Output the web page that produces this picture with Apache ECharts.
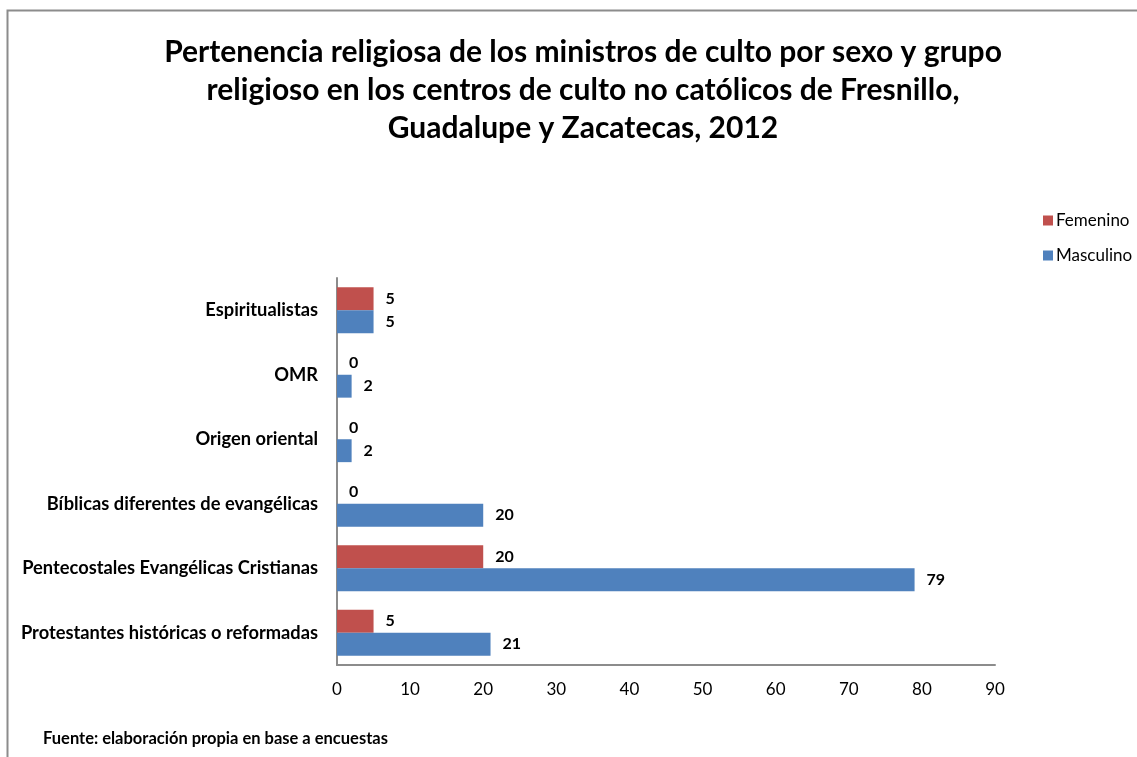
<!DOCTYPE html>
<html>
<head>
<meta charset="utf-8">
<script src="https://cdn.jsdelivr.net/npm/echarts@6/dist/echarts.min.js"></script>
<style>
  html, body { margin: 0; padding: 0; background: #fff; }
  #chart { width: 1137px; height: 757px; }
</style>
</head>
<body>
<div id="chart"></div>
<script>
// Religious groups, listed bottom to top as they appear on the vertical axis
const categories = [
  'Protestantes históricas o reformadas',
  'Pentecostales Evangélicas Cristianas',
  'Bíblicas diferentes de evangélicas',
  'Origen oriental',
  'OMR',
  'Espiritualistas'
];
const femenino = [5, 20, 0, 0, 0, 5];
const masculino = [21, 79, 20, 2, 2, 5];
const xTicks = { min: 0, max: 90, interval: 10 };

const FONT = 'Lato, "Open Sans", sans-serif';

const chart = echarts.init(document.getElementById('chart'), null, { renderer: 'canvas' });

const valueLabel = {
  show: true,
  position: 'right',
  distance: 12,
  color: '#000',
  fontFamily: FONT,
  fontWeight: 'bold',
  fontSize: 16,
  padding: [3, 0, 0, 0]
};

chart.setOption({
  backgroundColor: '#fff',
  animation: false,
  graphic: [{
    type: 'rect',
    shape: { x: 7.5, y: 10.5, width: 1200, height: 800 },
    style: { fill: 'none', stroke: '#8c8c8c', lineWidth: 2 },
    silent: true
  }],
  title: [{
    text: 'Pertenencia religiosa de los ministros de culto por sexo y grupo\nreligioso en los centros de culto no católicos de Fresnillo,\nGuadalupe y Zacatecas, 2012',
    left: 578,
    top: 28,
    textAlign: 'center',
    textStyle: {
      fontFamily: FONT,
      fontWeight: 'bold',
      fontSize: 30,
      lineHeight: 38,
      color: '#000'
    }
  }, {
    text: 'Fuente: elaboración propia en base a encuestas',
    left: 38,
    top: 725,
    textStyle: {
      fontFamily: FONT,
      fontWeight: 'bold',
      fontSize: 16.5,
      color: '#000'
    }
  }],
  legend: {
    data: ['Femenino', 'Masculino'],
    orient: 'vertical',
    left: 1038,
    top: 207,
    itemWidth: 10,
    itemHeight: 10,
    itemGap: 18,
    icon: 'rect',
    textStyle: { fontFamily: FONT, fontSize: 17, color: '#000', padding: [0, 0, 0, -2] }
  },
  grid: { left: 337, right: 142, top: 278, bottom: 92, containLabel: false },
  xAxis: {
    type: 'value',
    min: xTicks.min,
    max: xTicks.max,
    interval: xTicks.interval,
    axisLine: { show: true, lineStyle: { color: '#8c8c8c', width: 2 } },
    axisTick: { show: false },
    splitLine: { show: false },
    axisLabel: { fontFamily: FONT, fontSize: 17, color: '#000', margin: 16 }
  },
  yAxis: {
    type: 'category',
    data: categories,
    axisLine: { show: true, lineStyle: { color: '#8c8c8c', width: 2 } },
    axisTick: { show: false },
    splitLine: { show: false },
    axisLabel: {
      fontFamily: FONT, fontSize: 18.3, fontWeight: 'bold', color: '#000',
      margin: 19, padding: [5, 0, 0, 0]
    }
  },
  series: [{
    name: 'Femenino',
    type: 'bar',
    data: femenino,
    barGap: '0%',
    barCategoryGap: '29%',
    itemStyle: { color: '#C0504D' },
    label: valueLabel
  }, {
    name: 'Masculino',
    type: 'bar',
    data: masculino,
    barGap: '0%',
    barCategoryGap: '29%',
    itemStyle: { color: '#4F81BD' },
    label: valueLabel
  }]
});
</script>
</body>
</html>
